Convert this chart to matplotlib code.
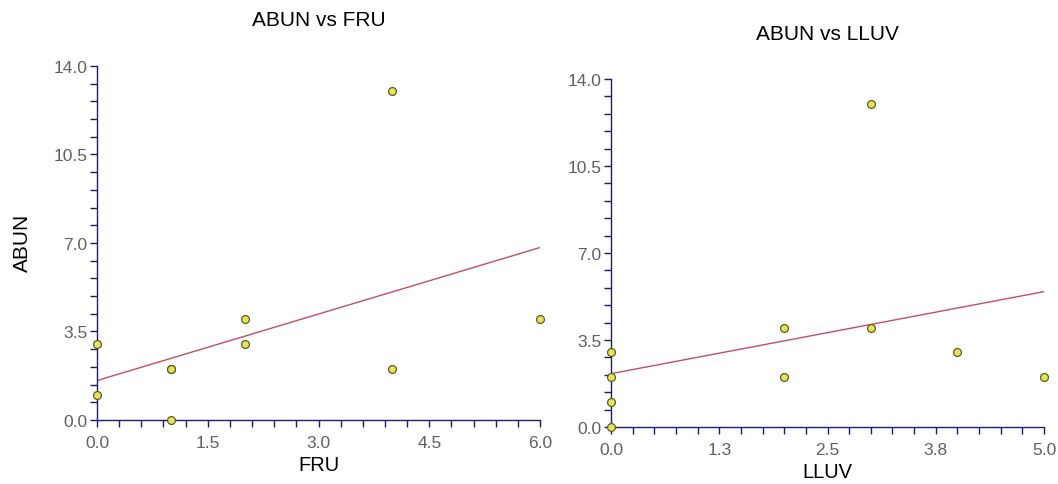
import numpy as np
import matplotlib
matplotlib.use('Agg')
import matplotlib.pyplot as plt
from matplotlib.ticker import MultipleLocator, FixedLocator

plt.rcParams['font.family'] = ['Liberation Sans', 'DejaVu Sans']

# data
fru = [0, 0, 1, 1, 1, 2, 2, 4, 4, 6]
abun_fru = [3, 1, 2, 2, 0, 4, 3, 13, 2, 4]
lluv = [0, 0, 0, 0, 2, 2, 3, 3, 4, 5]
abun_lluv = [3, 2, 1, 0, 4, 2, 13, 4, 3, 2]

y_ticks = [0.0, 3.5, 7.0, 10.5, 14.0]
y_tick_labels = ['0.0', '3.5', '7.0', '10.5', '14.0']
fru_ticks = [0.0, 1.5, 3.0, 4.5, 6.0]
fru_tick_labels = ['0.0', '1.5', '3.0', '4.5', '6.0']
lluv_ticks = [0.0, 1.25, 2.5, 3.75, 5.0]
lluv_tick_labels = ['0.0', '1.3', '2.5', '3.8', '5.0']

axis_col = '#1c1c6a'
tick_col = '#606060'
face_col = '#e4e45a'
edge_col = '#5c5c20'
line_col = '#c0505e'

fig = plt.figure(figsize=(10.58, 4.85), dpi=100)
ax1 = fig.add_axes([0.0917, 0.132, 0.4187, 0.730])
ax2 = fig.add_axes([0.5775, 0.1175, 0.4093, 0.7175])


def setup(ax, x, y, xmax, xticks, xlabels, xminor, title, xlabel, title_y, xlabel_y):
  ax.set_xlim(0, xmax)
  ax.set_ylim(0, 14)
  for s in ['top', 'right']:
    ax.spines[s].set_visible(False)
  for s in ['left', 'bottom']:
    ax.spines[s].set_color(axis_col)
    ax.spines[s].set_linewidth(1.0)
  ax.xaxis.set_major_locator(FixedLocator(xticks))
  ax.set_xticklabels(xlabels)
  ax.xaxis.set_minor_locator(MultipleLocator(xminor))
  ax.yaxis.set_major_locator(FixedLocator(y_ticks))
  ax.set_yticklabels(y_tick_labels)
  ax.yaxis.set_minor_locator(MultipleLocator(0.7))
  ax.tick_params(which='both', direction='out', length=5, width=1, color=axis_col,
                 labelcolor=tick_col, labelsize=12.5)
  ax.tick_params(axis='x', pad=6)
  ax.tick_params(axis='y', pad=2)

  # regression line
  k, b = np.polyfit(x, y, 1)
  xs = np.array([0, xmax])
  ax.plot(xs, k * xs + b, color=line_col, lw=1.0, zorder=2)
  ax.scatter(x, y, s=32, c=face_col, edgecolors=edge_col, linewidths=0.9,
             zorder=3, clip_on=False)

  pos = ax.get_position()
  cx = (pos.x0 + pos.x1) / 2
  fig.text(cx, title_y, title, ha='center', va='center', fontsize=15, color='black')
  fig.text(cx, xlabel_y, xlabel, ha='center', va='center', fontsize=14.5, color='black')


setup(ax1, fru, abun_fru, 6.0, fru_ticks, fru_tick_labels, 0.3,
      'ABUN vs FRU', 'FRU', 1 - 20 / 485, 1 - 466 / 485)
setup(ax2, lluv, abun_lluv, 5.0, lluv_ticks, lluv_tick_labels, 0.25,
      'ABUN vs LLUV', 'LLUV', 1 - 34 / 485, 1 - 473 / 485)

fig.text(22 / 1058, 1 - 243 / 485, 'ABUN', rotation=90, ha='center', va='center',
         fontsize=15, color='black')

fig.savefig('out.png', dpi=100)
